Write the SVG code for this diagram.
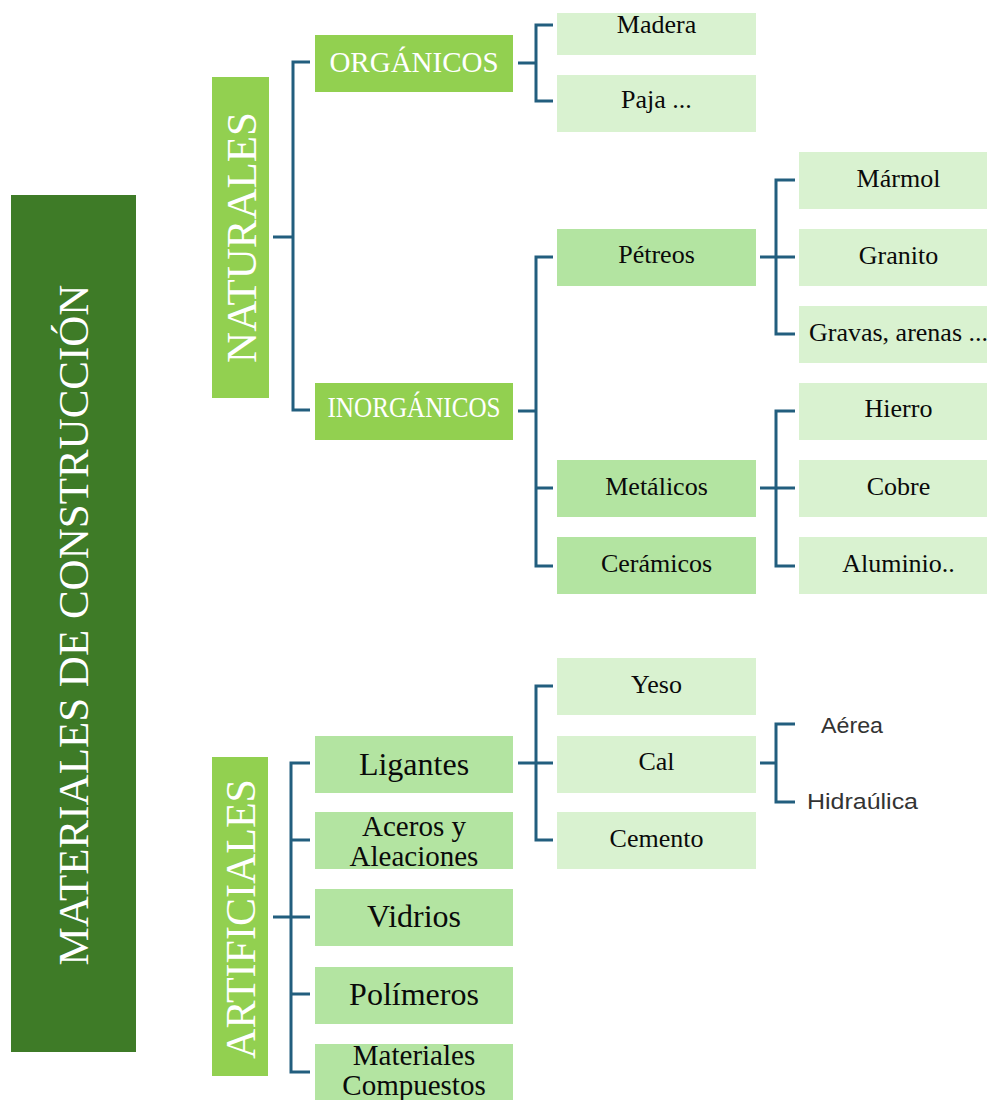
<svg xmlns="http://www.w3.org/2000/svg" width="987" height="1100" viewBox="0 0 987 1100">
<style>
.dk{fill:#3e7b27}
.md{fill:#92d050}
.l2{fill:#b3e4a1}
.l3{fill:#d9f2d0}
.wt{fill:#ffffff;font-family:"Liberation Serif","Times New Roman",serif;text-anchor:middle}
.bt{fill:#0a0a0a;font-family:"Liberation Serif","Times New Roman",serif;text-anchor:middle;font-size:26px}
.big{font-size:32px}
.mid{font-size:29px}
.sn{fill:#333333;font-family:"Liberation Sans",Arial,sans-serif;font-size:22px}
.ln{fill:none;stroke:#225e7e;stroke-width:3;stroke-linecap:butt;stroke-linejoin:miter}
</style>
<rect width="987" height="1100" fill="#ffffff"/>
<g id="connectors">
<path class="ln" d="M273,237 H293 M310,62 H293 V410 H310"/>
<path class="ln" d="M518,63 H536 M553,25 H536 V101 H553"/>
<path class="ln" d="M518,411 H536 M553,257 H536 V566 H553 M536,488 H553"/>
<path class="ln" d="M760,257 H776 M795,180 H776 V334 H795 M776,257 H795"/>
<path class="ln" d="M760,488 H776 M795,411 H776 V566 H795 M776,488 H795"/>
<path class="ln" d="M273,917 H291 M310,763 H291 V1072 H310 M291,840 H310 M291,917 H310 M291,994 H310"/>
<path class="ln" d="M518,763 H536 M553,686 H536 V840 H553 M536,763 H553"/>
<path class="ln" d="M760,763 H776 M795,724 H776 V802 H795"/>
</g>
<g id="root"><rect class="dk" x="11" y="195" width="125" height="857"/><text class="wt" font-size="43" transform="translate(88,625) rotate(-90)">MATERIALES DE CONSTRUCCIÓN</text></g>
<g id="naturales"><rect class="md" x="212" y="77" width="57" height="321"/><text class="wt" font-size="43" transform="translate(256,237.5) rotate(-90)">NATURALES</text></g>
<g id="artificiales"><rect class="md" x="212" y="757" width="56" height="319"/><text class="wt" font-size="42" transform="translate(255,919) rotate(-90)">ARTIFICIALES</text></g>
<g id="organicos"><rect class="md" x="315" y="35" width="198" height="57"/><text class="wt" font-size="29" x="414" y="72">ORGÁNICOS</text></g>
<g id="inorganicos"><rect class="md" x="315" y="383" width="198" height="57"/><text class="wt" font-size="29" x="414" y="417" textLength="173" lengthAdjust="spacingAndGlyphs">INORGÁNICOS</text></g>
<g id="madera"><rect class="l3" x="557" y="13" width="199" height="42"/><text class="bt" x="656.5" y="33">Madera</text></g>
<g id="paja"><rect class="l3" x="557" y="75" width="199" height="57"/><text class="bt" x="656.5" y="108">Paja ...</text></g>
<g id="petreos"><rect class="l2" x="557" y="229" width="199" height="57"/><text class="bt" x="656.5" y="263">Pétreos</text></g>
<g id="metalicos"><rect class="l2" x="557" y="460" width="199" height="57"/><text class="bt" x="656.5" y="495">Metálicos</text></g>
<g id="ceramicos"><rect class="l2" x="557" y="537" width="199" height="57"/><text class="bt" x="656.5" y="572">Cerámicos</text></g>
<g id="marmol"><rect class="l3" x="799" y="152" width="199" height="57"/><text class="bt" x="898.5" y="187">Mármol</text></g>
<g id="granito"><rect class="l3" x="799" y="229" width="199" height="57"/><text class="bt" x="898.5" y="264">Granito</text></g>
<g id="gravas"><rect class="l3" x="799" y="306" width="199" height="57"/><text class="bt" x="898.5" y="341">Gravas, arenas ...</text></g>
<g id="hierro"><rect class="l3" x="799" y="383" width="199" height="57"/><text class="bt" x="898.5" y="417">Hierro</text></g>
<g id="cobre"><rect class="l3" x="799" y="460" width="199" height="57"/><text class="bt" x="898.5" y="495">Cobre</text></g>
<g id="aluminio"><rect class="l3" x="799" y="537" width="199" height="57"/><text class="bt" x="898.5" y="572">Aluminio..</text></g>
<g id="ligantes"><rect class="l2" x="315" y="736" width="198" height="57"/><text class="bt big" x="414" y="775">Ligantes</text></g>
<g id="aceros"><rect class="l2" x="315" y="812" width="198" height="57"/><text class="bt mid" x="414" y="836">Aceros y</text><text class="bt mid" x="414" y="866">Aleaciones</text></g>
<g id="vidrios"><rect class="l2" x="315" y="889" width="198" height="57"/><text class="bt big" x="414" y="927">Vidrios</text></g>
<g id="polimeros"><rect class="l2" x="315" y="967" width="198" height="57"/><text class="bt big" x="414" y="1005">Polímeros</text></g>
<g id="compuestos"><rect class="l2" x="315" y="1044" width="198" height="56"/><text class="bt mid" x="414" y="1065">Materiales</text><text class="bt mid" x="414" y="1095">Compuestos</text></g>
<g id="yeso"><rect class="l3" x="557" y="658" width="199" height="57"/><text class="bt" x="656.5" y="693">Yeso</text></g>
<g id="cal"><rect class="l3" x="557" y="736" width="199" height="57"/><text class="bt" x="656.5" y="770">Cal</text></g>
<g id="cemento"><rect class="l3" x="557" y="812" width="199" height="57"/><text class="bt" x="656.5" y="847">Cemento</text></g>
<g id="aerea"><text class="sn" x="821" y="733" textLength="62" lengthAdjust="spacingAndGlyphs">Aérea</text></g>
<g id="hidraulica"><text class="sn" x="807" y="809" textLength="111" lengthAdjust="spacingAndGlyphs">Hidraúlica</text></g>
</svg>
